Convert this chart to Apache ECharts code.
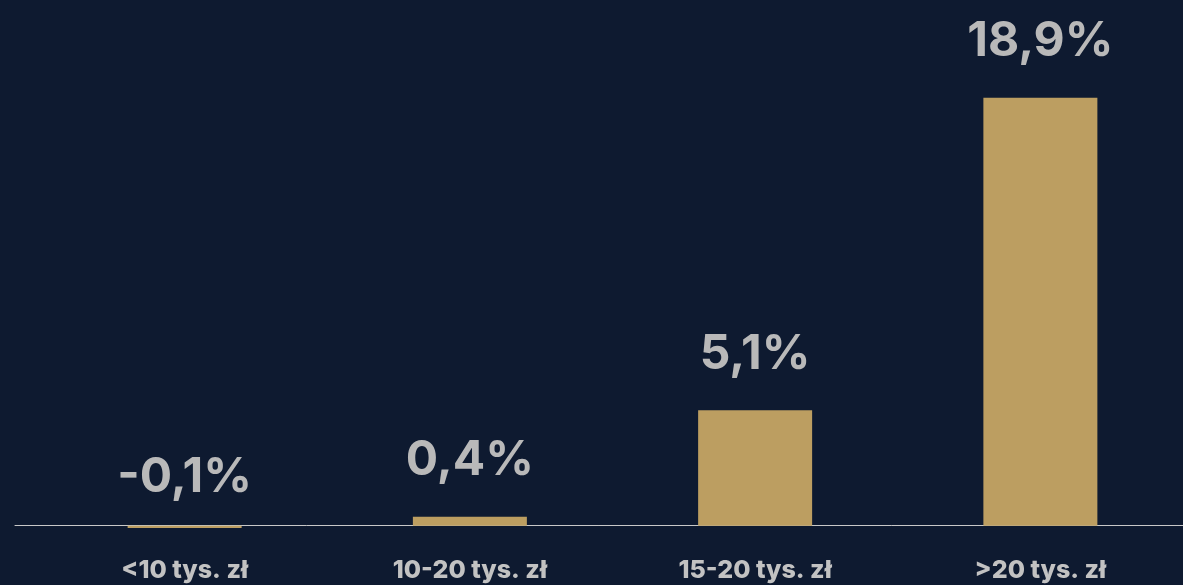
<!DOCTYPE html>
<html>
<head>
<meta charset="utf-8">
<script src="https://cdn.jsdelivr.net/npm/echarts@6/dist/echarts.min.js"></script>
<style>
html,body{margin:0;padding:0;background:#0e1a30;}
#chart{width:1183px;height:585px;}
</style>
</head>
<body>
<div id="chart"></div>
<script>
const categories = ['<10 tys. zł', '10-20 tys. zł', '15-20 tys. zł', '>20 tys. zł'];
const values = [-0.1, 0.4, 5.1, 18.9];
const labelTexts = ['-0,1%', '0,4%', '5,1%', '18,9%'];

const chart = echarts.init(document.getElementById('chart'));
chart.setOption({
  backgroundColor: '#0e1a30',
  animation: false,
  grid: [
    {left: 42, right: 0, top: 5, bottom: 14, containLabel: false, outerBoundsMode: 'none'},
    {left: 15, right: 0, top: 5, bottom: 14, containLabel: false, outerBoundsMode: 'none'}
  ],
  xAxis: [
    {
      type: 'category', gridIndex: 0, data: categories,
      axisLine: {show: false},
      axisTick: {show: false},
      axisLabel: {color: '#c2c2c2', fontFamily: 'Inter', fontWeight: 800, fontSize: 25, margin: -13}
    },
    {
      type: 'category', gridIndex: 1, data: [''],
      axisLine: {show: true, onZero: true, lineStyle: {color: '#c8c8c8', width: 1}},
      axisTick: {show: false},
      axisLabel: {show: false}
    }
  ],
  yAxis: [
    {type: 'value', gridIndex: 0, min: -2, max: 23, show: false, splitLine: {show: false}},
    {type: 'value', gridIndex: 1, min: -2, max: 23, show: false, splitLine: {show: false}}
  ],
  series: [{
    type: 'bar',
    xAxisIndex: 0, yAxisIndex: 0,
    data: values.map(v => v < 0 ? {value: v, label: {distance: 24}} : v),
    barWidth: 114,
    itemStyle: {color: '#bc9e61'},
    z: 3,
    label: {
      show: true,
      position: 'top',
      distance: 32,
      color: '#b9b9b9',
      fontFamily: 'Inter',
      fontWeight: 'bold',
      fontSize: 48,
      formatter: p => labelTexts[p.dataIndex]
    }
  }]
});
</script>
</body>
</html>
